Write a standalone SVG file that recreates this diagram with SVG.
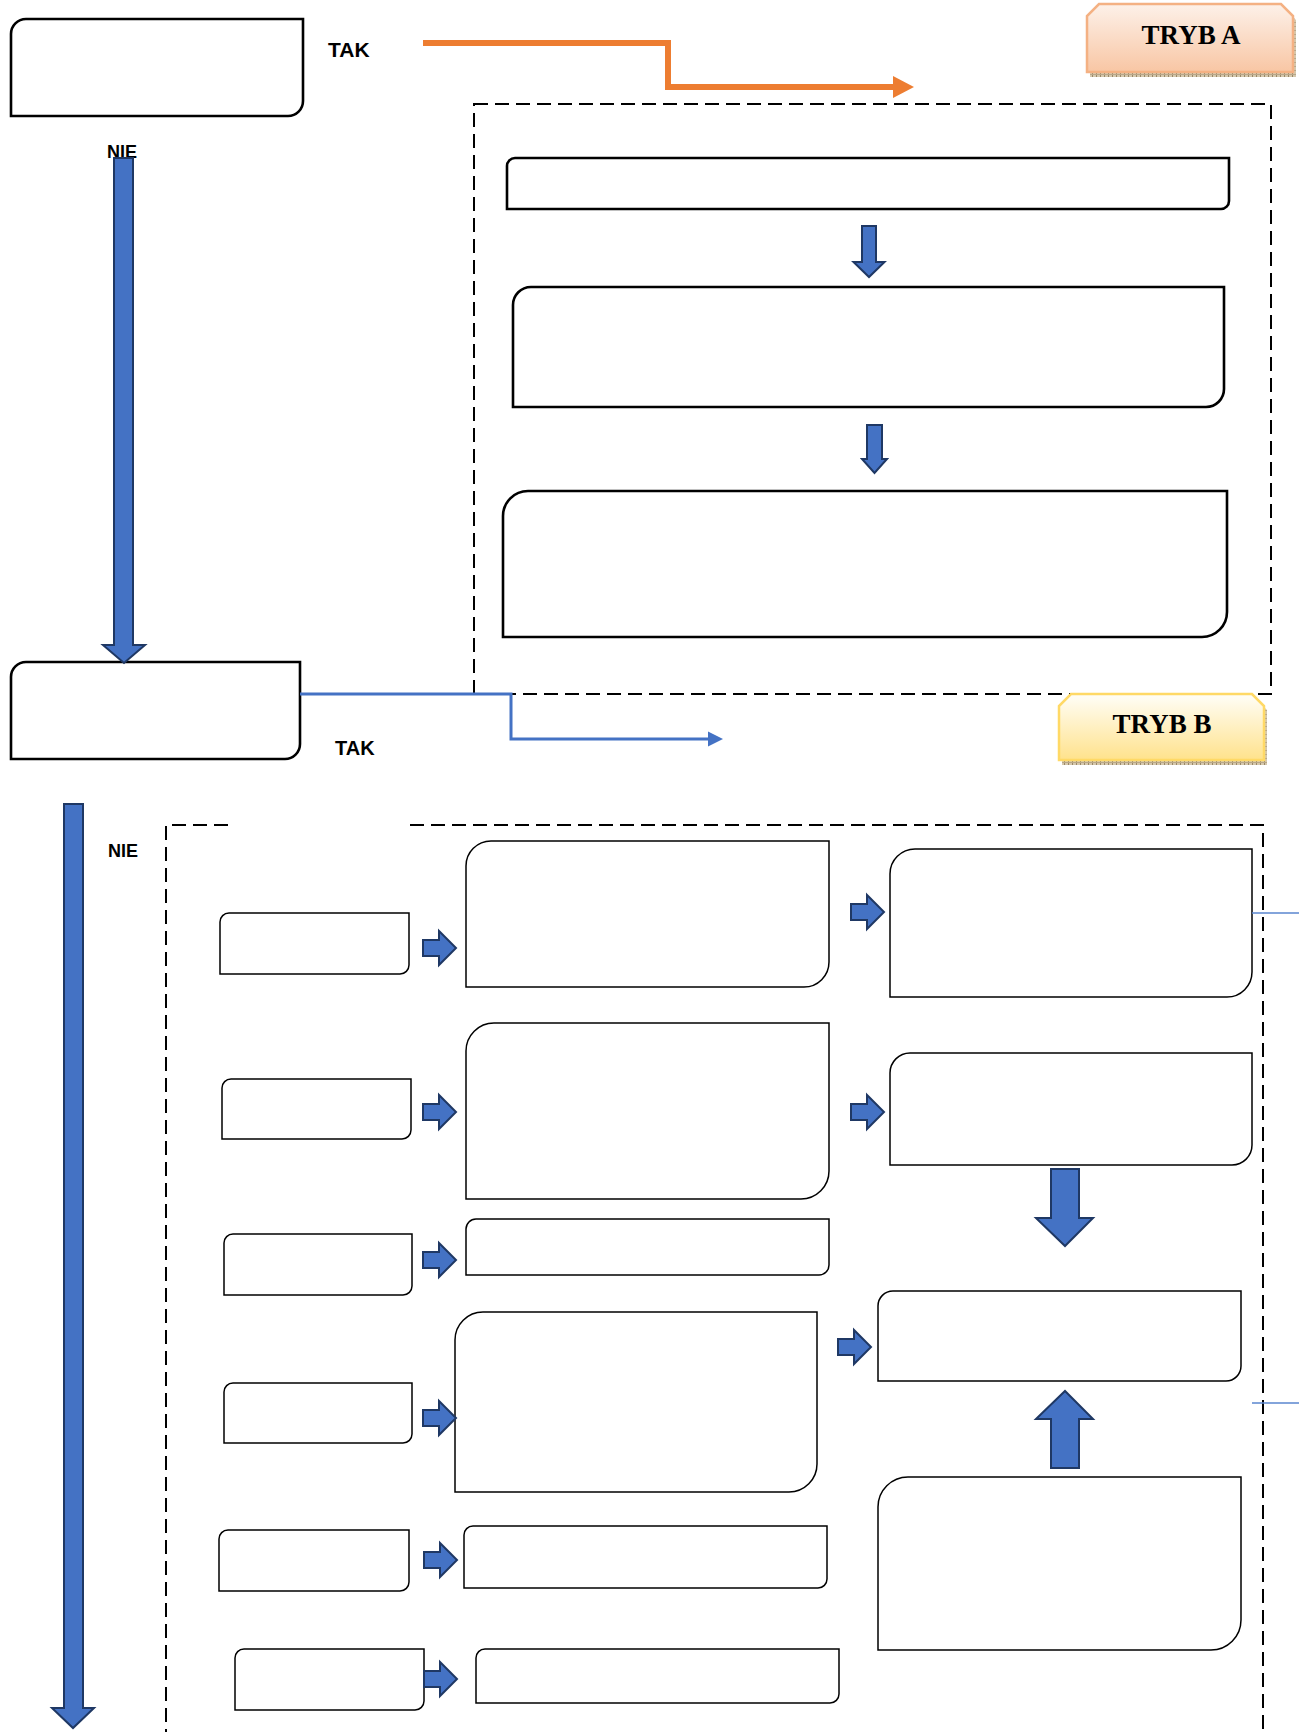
<svg xmlns="http://www.w3.org/2000/svg" width="1305" height="1732" viewBox="0 0 1305 1732">
<defs>
<style>
.box{fill:#fff;stroke:#000;stroke-width:2.6}
.sbox{fill:#fff;stroke:#000;stroke-width:1.5}
.dash{fill:none;stroke:#000;stroke-width:2;stroke-dasharray:14 7}
.barrow{fill:#4472C4;stroke:#1F3864;stroke-width:2;stroke-linejoin:miter}
.lbl{font-family:"Liberation Sans",Arial,sans-serif;font-weight:bold;fill:#000}
.tryb{font-family:"Liberation Serif","Times New Roman",serif;font-weight:bold;font-size:27px;fill:#000;text-anchor:middle}
</style>
<linearGradient id="gA" x1="0" y1="0" x2="0" y2="1">
<stop offset="0" stop-color="#FDF1E9"/><stop offset="1" stop-color="#F8C6A4"/>
</linearGradient>
<linearGradient id="gB" x1="0" y1="0" x2="0" y2="1">
<stop offset="0" stop-color="#FFFEF8"/><stop offset="1" stop-color="#FFE28C"/>
</linearGradient>
<pattern id="sh" patternUnits="userSpaceOnUse" width="4" height="4">
<rect width="4" height="4" fill="#D6C8AC"/><rect width="1" height="4" fill="#9A8868"/><rect width="4" height="1" y="2" fill="#B8A78A"/>
</pattern>
<path id="ra" d="M0,-8 H16 V-17 L33,0 L16,17 V8 H0 Z"/>
</defs>

<g id="labels">
<text class="lbl" x="328" y="57" font-size="21">TAK</text>
<text class="lbl" x="335" y="755" font-size="20">TAK</text>
<text class="lbl" x="107" y="158" font-size="18">NIE</text>
<text class="lbl" x="108" y="857" font-size="18">NIE</text>
</g>

<g id="frames">
<rect class="dash" x="474" y="104" width="797" height="590"/>
<path class="dash" d="M228,825 H166 V1732"/>
<path class="dash" d="M410,825 H1263 V1732"/>
</g>

<g id="trybA">
<polygon points="1102,8 1284,8 1296,20 1296,77 1090,77 1090,20" fill="url(#sh)"/>
<polygon points="1099,4 1281,4 1293,16 1293,72 1087,72 1087,16" fill="url(#gA)" stroke="#F4B183" stroke-width="2.5"/>
<text class="tryb" x="1191" y="44">TRYB A</text>
</g>
<g id="trybB">
<polygon points="1074,698 1255,698 1267,710 1267,765 1062,765 1062,710" fill="url(#sh)"/>
<polygon points="1071,694 1252,694 1264,706 1264,760 1059,760 1059,706" fill="url(#gB)" stroke="#FFD966" stroke-width="2.5"/>
<text class="tryb" x="1162" y="733">TRYB B</text>
</g>

<g id="decision1"><path class="box" d="M26,19 H303 V101 A15,15 0 0 1 288,116 H11 V34 A15,15 0 0 1 26,19 Z"/></g>
<g id="decision2"><path class="box" d="M26,662 H300 V744 A15,15 0 0 1 285,759 H11 V677 A15,15 0 0 1 26,662 Z"/></g>
<g id="a1"><path class="box" d="M515,158 H1229 V201 A8,8 0 0 1 1221,209 H507 V166 A8,8 0 0 1 515,158 Z"/></g>
<g id="a2"><path class="box" d="M531,287 H1224 V389 A18,18 0 0 1 1206,407 H513 V305 A18,18 0 0 1 531,287 Z"/></g>
<g id="a3"><path class="box" d="M528,491 H1227 V612 A25,25 0 0 1 1202,637 H503 V516 A25,25 0 0 1 528,491 Z"/></g>

<g id="l1"><path class="sbox" d="M229,913 H409 V965 A9,9 0 0 1 400,974 H220 V922 A9,9 0 0 1 229,913 Z"/></g>
<g id="l2"><path class="sbox" d="M231,1079 H411 V1130 A9,9 0 0 1 402,1139 H222 V1088 A9,9 0 0 1 231,1079 Z"/></g>
<g id="l3"><path class="sbox" d="M233,1234 H412 V1286 A9,9 0 0 1 403,1295 H224 V1243 A9,9 0 0 1 233,1234 Z"/></g>
<g id="l4"><path class="sbox" d="M233,1383 H412 V1434 A9,9 0 0 1 403,1443 H224 V1392 A9,9 0 0 1 233,1383 Z"/></g>
<g id="l5"><path class="sbox" d="M228,1530 H409 V1582 A9,9 0 0 1 400,1591 H219 V1539 A9,9 0 0 1 228,1530 Z"/></g>
<g id="l6"><path class="sbox" d="M244,1649 H424 V1701 A9,9 0 0 1 415,1710 H235 V1658 A9,9 0 0 1 244,1649 Z"/></g>

<g id="m1"><path class="sbox" d="M491,841 H829 V962 A25,25 0 0 1 804,987 H466 V866 A25,25 0 0 1 491,841 Z"/></g>
<g id="m2"><path class="sbox" d="M494,1023 H829 V1171 A28,28 0 0 1 801,1199 H466 V1051 A28,28 0 0 1 494,1023 Z"/></g>
<g id="m3"><path class="sbox" d="M476,1219 H829 V1265 A10,10 0 0 1 819,1275 H466 V1229 A10,10 0 0 1 476,1219 Z"/></g>
<g id="m4"><path class="sbox" d="M483,1312 H817 V1464 A28,28 0 0 1 789,1492 H455 V1340 A28,28 0 0 1 483,1312 Z"/></g>
<g id="m5"><path class="sbox" d="M473,1526 H827 V1579 A9,9 0 0 1 818,1588 H464 V1535 A9,9 0 0 1 473,1526 Z"/></g>
<g id="m6"><path class="sbox" d="M485,1649 H839 V1694 A9,9 0 0 1 830,1703 H476 V1658 A9,9 0 0 1 485,1649 Z"/></g>

<g id="r1"><path class="sbox" d="M915,849 H1252 V972 A25,25 0 0 1 1227,997 H890 V874 A25,25 0 0 1 915,849 Z"/></g>
<g id="r2"><path class="sbox" d="M910,1053 H1252 V1145 A20,20 0 0 1 1232,1165 H890 V1073 A20,20 0 0 1 910,1053 Z"/></g>
<g id="r3"><path class="sbox" d="M893,1291 H1241 V1366 A15,15 0 0 1 1226,1381 H878 V1306 A15,15 0 0 1 893,1291 Z"/></g>
<g id="r4"><path class="sbox" d="M908,1477 H1241 V1620 A30,30 0 0 1 1211,1650 H878 V1507 A30,30 0 0 1 908,1477 Z"/></g>

<g id="connectors">
<path d="M423,43 H668 V87 H895" fill="none" stroke="#ED7D31" stroke-width="6"/>
<polygon points="893,76 914,87 893,98" fill="#ED7D31"/>
<path d="M300,694 H511 V739 H710" fill="none" stroke="#4472C4" stroke-width="3"/>
<polygon points="708,731.5 723,739 708,746.5" fill="#4472C4"/>
<path d="M1252,913 H1299 M1252,1403 H1299" fill="none" stroke="#5B86D0" stroke-width="1.5"/>
<path class="barrow" d="M114,158 H133 V645 H145 L124,663 L103,645 H114 Z"/>
<path class="barrow" d="M64,804 H83 V1708 H94 L73,1728 L52,1708 H64 Z"/>
<path class="barrow" d="M862,226 H876 V262 H884.5 L869,277 L853.5,262 H862 Z"/>
<path class="barrow" d="M867,425 H882 V459 H887 L874.5,473 L862,459 H867 Z" stroke="#2F528F"/>
<path class="barrow" d="M1051,1169 H1079 V1218 H1093 L1065,1246 L1036,1218 H1051 Z"/>
<path class="barrow" d="M1051,1468 H1079 V1419 H1093 L1065,1391 L1036,1419 H1051 Z"/>
<use href="#ra" class="barrow" transform="translate(423,948)"/>
<use href="#ra" class="barrow" transform="translate(423,1112)"/>
<use href="#ra" class="barrow" transform="translate(423,1260)"/>
<use href="#ra" class="barrow" transform="translate(423,1418)"/>
<use href="#ra" class="barrow" transform="translate(424,1560)"/>
<use href="#ra" class="barrow" transform="translate(424,1679)"/>
<use href="#ra" class="barrow" transform="translate(851,912)"/>
<use href="#ra" class="barrow" transform="translate(851,1112)"/>
<use href="#ra" class="barrow" transform="translate(838,1347)"/>
</g>
</svg>
